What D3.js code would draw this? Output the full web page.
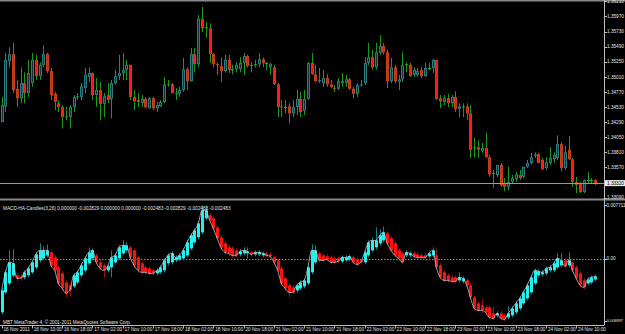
<!DOCTYPE html>
<html>
<head>
<meta charset="utf-8">
<script src="https://d3js.org/d3.v7.min.js"></script>
<style>
  body { margin: 0; background: #000; }
  svg { display: block; }
  text { font-family: "Liberation Sans", Arial, sans-serif; font-size: 4.7px; fill: #e4e4e4; }
</style>
</head>
<body>
<div id="chart"></div>
<script>
// EURUSD H1 candles
var open = [1.3429,1.3454,1.3526,1.3537,1.3482,1.3467,1.3491,1.3475,1.3491,1.3528,1.3502,1.3520,1.3537,1.3510,1.3474,1.3459,1.3453,1.3437,1.3437,1.3453,
  1.3469,1.3469,1.3483,1.3501,1.3507,1.3472,1.3480,1.3458,1.3472,1.3466,1.3491,1.3502,1.3507,1.3512,1.3520,1.3469,1.3464,1.3459,1.3466,1.3451,
  1.3467,1.3451,1.3454,1.3461,1.3489,1.3489,1.3474,1.3474,1.3480,1.3513,1.3494,1.3537,1.3521,1.3593,1.3578,1.3578,1.3537,1.3521,1.3518,1.3510,
  1.3528,1.3513,1.3513,1.3513,1.3523,1.3534,1.3518,1.3521,1.3521,1.3529,1.3523,1.3516,1.3516,1.3489,1.3453,1.3453,1.3454,1.3443,1.3453,1.3466,
  1.3447,1.3466,1.3523,1.3505,1.3494,1.3491,1.3499,1.3489,1.3483,1.3482,1.3491,1.3491,1.3497,1.3482,1.3474,1.3488,1.3491,1.3523,1.3532,1.3516,
  1.3539,1.3550,1.3540,1.3494,1.3516,1.3493,1.3497,1.3521,1.3520,1.3504,1.3504,1.3512,1.3502,1.3515,1.3515,1.3528,1.3467,1.3461,1.3467,1.3459,
  1.3469,1.3450,1.3454,1.3454,1.3443,1.3388,1.3389,1.3383,1.3388,1.3373,1.3348,1.3345,1.3361,1.3332,1.3326,1.3334,1.3338,1.3345,1.3342,1.3358,
  1.3364,1.3377,1.3378,1.3369,1.3356,1.3364,1.3370,1.3372,1.3394,1.3356,1.3385,1.3370,1.3334,1.3332,1.3318,1.3337,1.3337,1.3337];
var high = [1.3469,1.3539,1.3548,1.3555,1.3496,1.3516,1.3508,1.3528,1.3539,1.3536,1.3524,1.3551,1.3539,1.3515,1.3477,1.3464,1.3456,1.3453,1.3456,1.3472,
  1.3475,1.3491,1.3515,1.3516,1.3508,1.3499,1.3493,1.3475,1.3491,1.3496,1.3512,1.3536,1.3539,1.3528,1.3520,1.3480,1.3475,1.3472,1.3469,1.3469,
  1.3469,1.3461,1.3464,1.3501,1.3496,1.3491,1.3483,1.3485,1.3531,1.3516,1.3547,1.3547,1.3599,1.3612,1.3588,1.3586,1.3539,1.3524,1.3532,1.3536,
  1.3536,1.3520,1.3524,1.3532,1.3539,1.3536,1.3524,1.3528,1.3539,1.3532,1.3524,1.3523,1.3520,1.3491,1.3464,1.3464,1.3459,1.3464,1.3480,1.3477,
  1.3480,1.3524,1.3539,1.3520,1.3515,1.3512,1.3505,1.3496,1.3488,1.3499,1.3507,1.3504,1.3499,1.3485,1.3491,1.3496,1.3532,1.3555,1.3544,1.3555,
  1.3567,1.3555,1.3544,1.3531,1.3520,1.3504,1.3540,1.3524,1.3523,1.3516,1.3515,1.3516,1.3523,1.3523,1.3529,1.3528,1.3472,1.3472,1.3474,1.3472,
  1.3478,1.3459,1.3459,1.3459,1.3456,1.3404,1.3400,1.3396,1.3412,1.3377,1.3353,1.3361,1.3364,1.3340,1.3358,1.3345,1.3350,1.3353,1.3358,1.3369,
  1.3380,1.3381,1.3380,1.3372,1.3373,1.3389,1.3381,1.3408,1.3397,1.3392,1.3407,1.3372,1.3342,1.3334,1.3338,1.3350,1.3340,1.3338];
var low = [1.3429,1.3445,1.3516,1.3475,1.3453,1.3459,1.3459,1.3469,1.3485,1.3496,1.3496,1.3516,1.3507,1.3464,1.3448,1.3445,1.3419,1.3432,1.3419,1.3445,
  1.3464,1.3464,1.3475,1.3493,1.3464,1.3453,1.3432,1.3437,1.3459,1.3435,1.3488,1.3496,1.3496,1.3496,1.3464,1.3448,1.3453,1.3453,1.3451,1.3451,
  1.3448,1.3445,1.3453,1.3459,1.3485,1.3475,1.3464,1.3469,1.3477,1.3480,1.3493,1.3508,1.3516,1.3572,1.3563,1.3523,1.3516,1.3504,1.3493,1.3508,
  1.3507,1.3505,1.3508,1.3508,1.3504,1.3516,1.3508,1.3516,1.3516,1.3516,1.3512,1.3504,1.3488,1.3437,1.3437,1.3443,1.3427,1.3437,1.3440,1.3437,
  1.3440,1.3464,1.3504,1.3493,1.3491,1.3485,1.3485,1.3483,1.3477,1.3480,1.3485,1.3485,1.3480,1.3467,1.3469,1.3485,1.3488,1.3520,1.3512,1.3512,
  1.3536,1.3536,1.3483,1.3491,1.3491,1.3480,1.3493,1.3508,1.3501,1.3501,1.3501,1.3499,1.3501,1.3512,1.3507,1.3464,1.3451,1.3456,1.3453,1.3453,
  1.3445,1.3437,1.3437,1.3432,1.3372,1.3373,1.3372,1.3380,1.3372,1.3342,1.3324,1.3342,1.3326,1.3319,1.3321,1.3332,1.3334,1.3337,1.3340,1.3356,
  1.3361,1.3372,1.3364,1.3353,1.3353,1.3361,1.3364,1.3369,1.3351,1.3353,1.3369,1.3326,1.3316,1.3316,1.3316,1.3332,1.3332,1.3329];
var close = [1.3456,1.3528,1.3537,1.3480,1.3467,1.3491,1.3475,1.3507,1.3528,1.3502,1.3520,1.3537,1.3510,1.3472,1.3461,1.3453,1.3437,1.3438,1.3453,1.3469,
  1.3470,1.3486,1.3504,1.3507,1.3472,1.3480,1.3458,1.3470,1.3464,1.3491,1.3502,1.3507,1.3512,1.3520,1.3469,1.3462,1.3461,1.3466,1.3453,1.3467,
  1.3451,1.3456,1.3461,1.3489,1.3490,1.3475,1.3475,1.3480,1.3513,1.3494,1.3537,1.3521,1.3593,1.3578,1.3580,1.3537,1.3521,1.3520,1.3510,1.3528,
  1.3512,1.3513,1.3520,1.3523,1.3534,1.3518,1.3520,1.3521,1.3529,1.3523,1.3523,1.3521,1.3489,1.3453,1.3454,1.3453,1.3443,1.3453,1.3466,1.3445,
  1.3466,1.3523,1.3505,1.3494,1.3496,1.3499,1.3489,1.3485,1.3482,1.3494,1.3494,1.3497,1.3482,1.3474,1.3488,1.3489,1.3523,1.3532,1.3516,1.3540,
  1.3550,1.3540,1.3494,1.3516,1.3494,1.3497,1.3520,1.3521,1.3502,1.3512,1.3510,1.3502,1.3515,1.3515,1.3528,1.3466,1.3462,1.3467,1.3459,1.3469,
  1.3450,1.3454,1.3454,1.3443,1.3385,1.3389,1.3385,1.3388,1.3373,1.3346,1.3348,1.3361,1.3329,1.3326,1.3334,1.3340,1.3346,1.3340,1.3358,1.3364,
  1.3373,1.3377,1.3364,1.3354,1.3365,1.3372,1.3377,1.3394,1.3356,1.3381,1.3370,1.3334,1.3329,1.3318,1.3337,1.3337,1.3337,1.3332];

// MACD-HA-Candles(3,26)
var haOpen = [-0.00766,-0.00480,-0.00351,-0.00236,-0.00236,-0.00251,-0.00265,-0.00236,-0.00193,-0.00122,-0.00021,0.00007,0.00050,0.00093,0.00021,-0.00122,-0.00208,-0.00337,-0.00379,-0.00394,
  -0.00337,-0.00236,-0.00165,-0.00064,0.00007,0.00050,-0.00050,-0.00093,-0.00165,-0.00122,-0.00050,0.00007,0.00079,0.00122,0.00165,0.00122,0.00021,-0.00064,-0.00122,-0.00136,
  -0.00165,-0.00208,-0.00193,-0.00165,-0.00064,-0.00050,-0.00021,-0.00007,0.00007,0.00050,0.00150,0.00236,0.00308,0.00379,0.00580,0.00623,0.00580,0.00451,0.00308,0.00222,
  0.00165,0.00150,0.00122,0.00064,0.00079,0.00079,0.00093,0.00064,0.00064,0.00050,0.00079,0.00064,0.00021,-0.00021,-0.00136,-0.00279,-0.00379,-0.00408,-0.00451,-0.00422,
  -0.00394,-0.00351,-0.00193,-0.00050,0.00079,0.00050,0.00036,0.00021,0.00007,0.00007,-0.00036,-0.00021,-0.00007,0.00021,-0.00007,-0.00021,-0.00050,0.00050,0.00122,0.00165,
  0.00222,0.00265,0.00365,0.00294,0.00222,0.00122,0.00079,0.00050,0.00050,0.00079,0.00064,0.00050,0.00050,0.00036,0.00050,0.00050,-0.00093,-0.00193,-0.00236,-0.00265,
  -0.00265,-0.00308,-0.00322,-0.00308,-0.00379,-0.00551,-0.00637,-0.00666,-0.00695,-0.00695,-0.00780,-0.00809,-0.00780,-0.00809,-0.00838,-0.00809,-0.00766,-0.00709,-0.00637,-0.00566,
  -0.00480,-0.00351,-0.00236,-0.00222,-0.00208,-0.00165,-0.00165,-0.00122,-0.00093,-0.00021,-0.00093,-0.00050,-0.00122,-0.00208,-0.00308,-0.00351,-0.00337,-0.00294];
var haHigh = [-0.00422,-0.00165,0.00122,0.00136,-0.00208,-0.00222,-0.00165,-0.00107,-0.00021,0.00093,0.00222,0.00179,0.00208,0.00122,0.00050,-0.00093,-0.00179,-0.00308,-0.00351,-0.00208,
  -0.00165,-0.00064,0.00036,0.00165,0.00150,0.00079,-0.00021,-0.00064,-0.00079,0.00122,0.00079,0.00193,0.00265,0.00236,0.00193,0.00150,0.00050,-0.00036,-0.00093,-0.00107,
  -0.00136,-0.00136,-0.00093,0.00007,0.00079,0.00107,0.00050,0.00079,0.00150,0.00265,0.00365,0.00437,0.00537,0.00766,0.00766,0.00651,0.00609,0.00480,0.00337,0.00251,
  0.00193,0.00179,0.00150,0.00136,0.00165,0.00165,0.00122,0.00122,0.00122,0.00107,0.00107,0.00093,0.00050,0.00007,-0.00107,-0.00251,-0.00351,-0.00379,-0.00351,-0.00308,
  -0.00279,-0.00093,0.00208,0.00193,0.00107,0.00079,0.00064,0.00050,0.00036,0.00036,0.00050,0.00050,0.00064,0.00050,0.00021,0.00007,0.00122,0.00265,0.00308,0.00451,
  0.00422,0.00465,0.00394,0.00322,0.00251,0.00150,0.00107,0.00122,0.00107,0.00107,0.00093,0.00079,0.00079,0.00107,0.00165,0.00150,-0.00064,-0.00165,-0.00208,-0.00236,
  -0.00236,-0.00193,-0.00251,-0.00279,-0.00351,-0.00523,-0.00609,-0.00566,-0.00666,-0.00666,-0.00680,-0.00752,-0.00752,-0.00780,-0.00680,-0.00680,-0.00609,-0.00537,-0.00451,-0.00351,
  -0.00236,-0.00136,-0.00150,-0.00165,-0.00107,-0.00093,-0.00036,0.00079,0.00079,0.00007,0.00093,-0.00021,-0.00093,-0.00179,-0.00279,-0.00265,-0.00236,-0.00222];
var haLow = [-0.00795,-0.00508,-0.00379,-0.00265,-0.00322,-0.00308,-0.00294,-0.00265,-0.00222,-0.00150,-0.00050,-0.00021,0.00021,-0.00122,-0.00193,-0.00379,-0.00451,-0.00551,-0.00537,-0.00422,
  -0.00365,-0.00265,-0.00193,-0.00093,-0.00021,-0.00079,-0.00165,-0.00265,-0.00193,-0.00265,-0.00079,-0.00021,0.00050,0.00093,-0.00007,-0.00122,-0.00193,-0.00222,-0.00222,-0.00236,
  -0.00236,-0.00236,-0.00222,-0.00193,-0.00093,-0.00079,-0.00050,-0.00036,-0.00021,0.00021,0.00122,0.00208,0.00279,0.00351,0.00551,0.00523,0.00408,0.00265,0.00136,0.00064,
  0.00036,0.00021,0.00021,0.00036,0.00050,0.00007,0.00036,0.00036,0.00036,0.00021,0.00021,0.00007,-0.00079,-0.00193,-0.00379,-0.00451,-0.00551,-0.00508,-0.00480,-0.00451,
  -0.00422,-0.00379,-0.00222,-0.00079,-0.00050,-0.00050,-0.00036,-0.00079,-0.00079,-0.00064,-0.00064,-0.00050,-0.00036,-0.00079,-0.00107,-0.00079,-0.00079,0.00021,0.00093,0.00136,
  0.00193,0.00236,0.00193,0.00093,0.00021,-0.00021,-0.00079,0.00021,0.00021,0.00007,-0.00007,-0.00007,-0.00007,0.00007,0.00021,-0.00150,-0.00294,-0.00337,-0.00337,-0.00351,
  -0.00351,-0.00337,-0.00351,-0.00408,-0.00580,-0.00737,-0.00766,-0.00766,-0.00795,-0.00866,-0.00881,-0.00838,-0.00881,-0.00895,-0.00866,-0.00838,-0.00795,-0.00737,-0.00666,-0.00594,
  -0.00508,-0.00379,-0.00265,-0.00251,-0.00236,-0.00193,-0.00193,-0.00150,-0.00122,-0.00136,-0.00122,-0.00193,-0.00308,-0.00408,-0.00437,-0.00379,-0.00365,-0.00322];
var haClose = [-0.00451,-0.00193,-0.00050,-0.00064,-0.00279,-0.00279,-0.00193,-0.00136,-0.00050,0.00064,0.00122,0.00122,0.00122,-0.00093,-0.00165,-0.00351,-0.00422,-0.00494,-0.00451,-0.00236,
  -0.00193,-0.00093,0.00007,0.00093,0.00122,-0.00050,-0.00136,-0.00165,-0.00107,0.00021,0.00050,0.00165,0.00193,0.00193,0.00021,-0.00093,-0.00165,-0.00193,-0.00193,-0.00208,
  -0.00208,-0.00165,-0.00122,-0.00021,0.00050,0.00079,0.00021,0.00050,0.00122,0.00236,0.00337,0.00408,0.00508,0.00695,0.00695,0.00551,0.00437,0.00294,0.00165,0.00093,
  0.00079,0.00050,0.00050,0.00107,0.00122,0.00107,0.00064,0.00093,0.00093,0.00079,0.00050,0.00036,-0.00050,-0.00165,-0.00351,-0.00422,-0.00480,-0.00480,-0.00379,-0.00337,
  -0.00308,-0.00122,0.00122,0.00122,-0.00021,-0.00021,-0.00007,-0.00050,-0.00050,-0.00036,0.00021,0.00021,0.00036,-0.00050,-0.00079,-0.00050,0.00093,0.00236,0.00265,0.00265,
  0.00337,0.00379,0.00222,0.00122,0.00050,0.00007,-0.00050,0.00093,0.00079,0.00036,0.00021,0.00021,0.00021,0.00079,0.00122,-0.00122,-0.00265,-0.00308,-0.00308,-0.00322,
  -0.00322,-0.00265,-0.00279,-0.00379,-0.00551,-0.00709,-0.00737,-0.00737,-0.00766,-0.00838,-0.00852,-0.00780,-0.00852,-0.00866,-0.00780,-0.00709,-0.00637,-0.00566,-0.00480,-0.00379,
  -0.00265,-0.00165,-0.00179,-0.00193,-0.00136,-0.00122,-0.00064,0.00007,-0.00021,-0.00107,-0.00021,-0.00165,-0.00279,-0.00379,-0.00408,-0.00294,-0.00265,-0.00251];
var haBuffers = ["0.000000", "-0.002829", "0.000000", "0.000000", "-0.002483", "-0.002829", "-0.002483", "-0.002483"];

var timeLabels = ["16 Nov 2011", "16 Nov 10:00", "16 Nov 18:00", "17 Nov 02:00", "17 Nov 10:00", "17 Nov 18:00", "18 Nov 02:00", "18 Nov 10:00",
  "20 Nov 18:00", "21 Nov 02:00", "21 Nov 10:00", "21 Nov 18:00", "22 Nov 02:00", "22 Nov 10:00", "22 Nov 18:00", "23 Nov 02:00",
  "23 Nov 10:00", "23 Nov 18:00", "24 Nov 02:00", "24 Nov 10:00"];
var priceTicks = [1.36210, 1.35970, 1.35730, 1.35490, 1.35250, 1.35010, 1.34770, 1.34530, 1.34290, 1.34050, 1.33810, 1.33570, 1.33330, 1.33090];
var macdTicks = [0.007711, 0, -0.008897];
var macdTickText = ["0.007711", "0.00", "-0.008897"];

var width = 625, height = 334,
    plotRight = 604,
    barsPerLabel = 8;

var svg = d3.select("#chart").append("svg")
    .attr("width", width)
    .attr("height", height);

svg.append("rect").attr("width", width).attr("height", height).attr("fill", "#000");

var x = d3.scaleLinear().domain([0, open.length - 1]).range([1.7, 1.7 + 3.78 * (open.length - 1)]);
var y = d3.scaleLinear().domain([1.33090, 1.36210]).range([197.6, 1.3]);
var ym = d3.scaleLinear().domain([-0.008897, 0.007711]).range([321, 205]);

var idx = d3.range(open.length);
function cx(i) { return Math.round(x(i)); }

// frame lines
svg.append("rect").attr("x", 0).attr("y", 0).attr("width", width).attr("height", 1.5).attr("fill", "#8a8a8a");
svg.append("rect").attr("x", 0).attr("y", 198.5).attr("width", width).attr("height", 2).attr("fill", "#8a8a8a");
svg.append("line").attr("x1", plotRight + 0.5).attr("x2", plotRight + 0.5).attr("y1", 0).attr("y2", 325)
    .attr("stroke", "#bdbdbd").attr("stroke-width", 1);
svg.append("line").attr("x1", 0).attr("x2", plotRight + 0.5).attr("y1", 325.5).attr("y2", 325.5)
    .attr("stroke", "#bdbdbd").attr("stroke-width", 1);

// main candles
var main = svg.append("g");
main.selectAll(".wick").data(idx).enter().append("line")
    .attr("x1", function(i) { return cx(i) + 0.5; })
    .attr("x2", function(i) { return cx(i) + 0.5; })
    .attr("y1", function(i) { return y(high[i]); })
    .attr("y2", function(i) { return y(low[i]); })
    .attr("stroke", "#1c9a1c").attr("stroke-width", 1);

main.selectAll(".body").data(idx).enter().append("rect")
    .attr("x", function(i) { return cx(i) - 1; })
    .attr("width", 3)
    .attr("y", function(i) { return y(Math.max(open[i], close[i])); })
    .attr("height", function(i) { return Math.max(1, Math.abs(y(open[i]) - y(close[i]))); })
    .attr("fill", function(i) {
      if (close[i] > open[i]) return "#2a7a7e";
      if (close[i] < open[i]) return "#c8401a";
      return "#22b022";
    });
main.selectAll(".inner").data(idx.filter(function(i) { return Math.abs(y(open[i]) - y(close[i])) > 2; }))
    .enter().append("rect")
    .attr("x", function(i) { return cx(i); })
    .attr("width", 1)
    .attr("y", function(i) { return y(Math.max(open[i], close[i])) + 1; })
    .attr("height", function(i) { return Math.abs(y(open[i]) - y(close[i])) - 2; })
    .attr("fill", function(i) { return close[i] > open[i] ? "#143038" : "#ff1208"; });

// current price line
var last = close[close.length - 1];
svg.append("line").attr("x1", 0).attr("x2", plotRight).attr("y1", Math.round(y(last)) + 0.5).attr("y2", Math.round(y(last)) + 0.5)
    .attr("stroke", "#9a9a9a").attr("stroke-width", 1);

// price axis
svg.selectAll(".ptick").data(priceTicks).enter().append("line")
    .attr("x1", plotRight).attr("x2", plotRight + 3)
    .attr("y1", function(d) { return Math.round(y(d)) + 0.5; })
    .attr("y2", function(d) { return Math.round(y(d)) + 0.5; })
    .attr("stroke", "#bdbdbd");
svg.selectAll(".plabel").data(priceTicks).enter().append("text")
    .attr("x", 607).attr("y", function(d) { return y(d) + 1.7; })
    .text(function(d) { return d.toFixed(5); });

svg.append("rect").attr("x", plotRight + 1).attr("y", y(last) - 3).attr("width", width - plotRight - 1).attr("height", 6)
    .attr("fill", "#e8e8e8");
svg.append("text").attr("x", 607).attr("y", y(last) + 1.7).style("fill", "#000")
    .text(last.toFixed(5));

// MACD-HA pane
svg.append("line").attr("x1", 0).attr("x2", plotRight).attr("y1", Math.round(ym(0)) + 0.5).attr("y2", Math.round(ym(0)) + 0.5)
    .attr("stroke", "#8c8c8c").attr("stroke-dasharray", "1.5,1.5");

var sub = svg.append("g");
sub.selectAll(".hwick").data(idx).enter().append("line")
    .attr("x1", function(i) { return cx(i) + 0.5; })
    .attr("x2", function(i) { return cx(i) + 0.5; })
    .attr("y1", function(i) { return ym(haHigh[i]); })
    .attr("y2", function(i) { return ym(haLow[i]); })
    .attr("stroke", function(i) { return haClose[i] >= haOpen[i] ? "#1d7f86" : "#901414"; });

sub.selectAll(".hbody").data(idx).enter().append("rect")
    .attr("x", function(i) { return cx(i) - 1; })
    .attr("width", 3)
    .attr("y", function(i) { return ym(Math.max(haOpen[i], haClose[i])); })
    .attr("height", function(i) { return Math.max(1, Math.abs(ym(haOpen[i]) - ym(haClose[i]))); })
    .attr("fill", function(i) { return haClose[i] >= haOpen[i] ? "#20f2f2" : "#ff1010"; });

sub.append("path").datum(idx)
    .attr("fill", "none").attr("stroke", "#c4c4c4").attr("stroke-width", 0.8)
    .attr("d", d3.line().x(function(i) { return x(i); }).y(function(i) { return ym(haClose[i]); }).curve(d3.curveMonotoneX));

svg.append("text").attr("x", 3).attr("y", 210)
    .text("MACD-HA-Candles(3,26) " + haBuffers.join(" "));

svg.selectAll(".mlabel").data(macdTicks).enter().append("text")
    .attr("x", function(d, i) { return macdTickText[i].length > 8 ? 605.5 : 606.5; })
    .attr("y", function(d) { return Math.min(ym(d) + 1.6, 321.5); })
    .style("font-size", function(d, i) { return macdTickText[i].length > 8 ? "3.9px" : null; })
    .text(function(d, i) { return macdTickText[i]; });
svg.selectAll(".mtick").data(macdTicks).enter().append("line")
    .attr("x1", plotRight).attr("x2", plotRight + 3)
    .attr("y1", function(d) { return Math.round(ym(d)) + 0.5; })
    .attr("y2", function(d) { return Math.round(ym(d)) + 0.5; })
    .attr("stroke", "#bdbdbd");

svg.append("text").attr("x", 3).attr("y", 323.5)
    .text("MBT MetaTrader 4, \u00a9 2001-2011 MetaQuotes Software Corp.");

// time axis
svg.selectAll(".ttick").data(timeLabels).enter().append("line")
    .attr("x1", function(d, i) { return cx(i * barsPerLabel) + 0.5; })
    .attr("x2", function(d, i) { return cx(i * barsPerLabel) + 0.5; })
    .attr("y1", 325).attr("y2", 328.5)
    .attr("stroke", "#bdbdbd");
svg.selectAll(".tlabel").data(timeLabels).enter().append("text")
    .attr("x", function(d, i) { return x(i * barsPerLabel) + 1.8; })
    .attr("y", 331)
    .text(function(d) { return d; });
</script>
</body>
</html>
